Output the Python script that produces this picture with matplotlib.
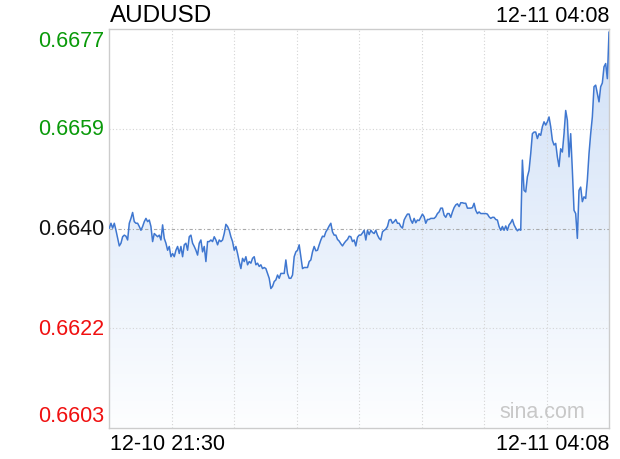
import numpy as np
import matplotlib
matplotlib.use("Agg")
import matplotlib.pyplot as plt
from matplotlib.colors import LinearSegmentedColormap
from matplotlib.patches import PathPatch

plt.rcParams['font.family'] = ['Liberation Sans', 'DejaVu Sans']

# 数据
symbol = "AUDUSD"
last_time = "12-11 04:08"
start_label = "12-10 21:30"
end_label = "12-11 04:08"
prev_close = 0.66404
y_labels = ["0.6603", "0.6622", "0.6640", "0.6659", "0.6677"]

prices_a = [
    0.66405, 0.66414, 0.66405, 0.66414, 0.66401, 0.66386, 0.66372, 0.66377, 0.66389, 0.66392,
    0.66390, 0.66383, 0.66414, 0.66423, 0.66434, 0.66417, 0.66414, 0.66414, 0.66408, 0.66401,
    0.66408, 0.66417, 0.66423, 0.66417, 0.66420, 0.66408, 0.66380, 0.66395, 0.66392, 0.66389,
    0.66392, 0.66383, 0.66411, 0.66386, 0.66377, 0.66364, 0.66371, 0.66352, 0.66358, 0.66352,
    0.66364, 0.66371, 0.66358, 0.66371, 0.66352, 0.66374, 0.66377, 0.66364, 0.66389, 0.66392,
    0.66377, 0.66371, 0.66364, 0.66355, 0.66377, 0.66383, 0.66361, 0.66371, 0.66343, 0.66380,
    0.66380, 0.66383, 0.66380, 0.66389, 0.66383, 0.66374, 0.66383, 0.66380, 0.66383, 0.66395,
    0.66412, 0.66408, 0.66401, 0.66389, 0.66380, 0.66364, 0.66371, 0.66358, 0.66343, 0.66330,
    0.66349, 0.66343, 0.66352, 0.66337, 0.66343, 0.66340, 0.66349, 0.66352, 0.66337, 0.66340,
    0.66334, 0.66337, 0.66330, 0.66332, 0.66330, 0.66321, 0.66312, 0.66293, 0.66297, 0.66306,
    0.66309, 0.66318, 0.66312, 0.66321, 0.66321, 0.66321, 0.66346, 0.66321, 0.66312, 0.66312,
    0.66318, 0.66352, 0.66361, 0.66364, 0.66374, 0.66352, 0.66330, 0.66332, 0.66332, 0.66332,
    0.66343,
]
prices_b = [
    0.66346, 0.66361, 0.66371, 0.66363, 0.66364, 0.66374, 0.66383, 0.66390, 0.66389, 0.66398,
    0.66403, 0.66409, 0.66414, 0.66398, 0.66392, 0.66392, 0.66384, 0.66381, 0.66376, 0.66372,
    0.66377, 0.66381, 0.66384, 0.66390, 0.66389, 0.66380, 0.66383, 0.66372, 0.66388, 0.66392,
    0.66392, 0.66396, 0.66401, 0.66383, 0.66401, 0.66393, 0.66401, 0.66397, 0.66395, 0.66401,
    0.66392, 0.66386, 0.66383, 0.66398, 0.66401, 0.66403, 0.66408, 0.66420, 0.66421, 0.66414,
    0.66417, 0.66421, 0.66414, 0.66414, 0.66408, 0.66405, 0.66420, 0.66426, 0.66431, 0.66431,
    0.66420, 0.66414, 0.66423, 0.66415, 0.66420, 0.66419, 0.66425, 0.66431, 0.66426, 0.66414,
    0.66421, 0.66421, 0.66423, 0.66423, 0.66423, 0.66426, 0.66432, 0.66435, 0.66442, 0.66442,
    0.66429, 0.66425, 0.66432, 0.66432, 0.66425, 0.66435, 0.66443, 0.66448, 0.66450, 0.66445,
    0.66452, 0.66452, 0.66451, 0.66451, 0.66442, 0.66442, 0.66442, 0.66443, 0.66451, 0.66438,
    0.66432, 0.66435, 0.66432, 0.66432, 0.66432, 0.66432, 0.66431, 0.66426, 0.66423, 0.66425,
    0.66425, 0.66421, 0.66420, 0.66408, 0.66401, 0.66408, 0.66401, 0.66409, 0.66401, 0.66411,
    0.66415, 0.66421, 0.66411, 0.66405, 0.66400, 0.66403,
]
prices_c = [
    0.66401, 0.66531, 0.66475, 0.66472, 0.66500, 0.66512, 0.66543, 0.66580, 0.66583, 0.66583,
    0.66571, 0.66580, 0.66577, 0.66593, 0.66602, 0.66596, 0.66602, 0.66611, 0.66593, 0.66568,
    0.66559, 0.66562, 0.66537, 0.66519, 0.66552, 0.66546, 0.66580, 0.66623, 0.66605, 0.66537,
    0.66580, 0.66512, 0.66438, 0.66432, 0.66386, 0.66475, 0.66481, 0.66454, 0.66463, 0.66460,
    0.66494, 0.66543, 0.66580, 0.66611, 0.66667, 0.66670, 0.66654, 0.66639, 0.66667, 0.66674,
    0.66704, 0.66710, 0.66682, 0.66768,
]

prices = np.array(prices_a + prices_b + prices_c)
x = np.arange(len(prices))
n = len(prices) - 1

step = 0.00185
levels = prev_close + step * np.arange(-2, 3)
ymin, ymax = levels[0], levels[-1]

fig = plt.figure(figsize=(6.2, 4.6), dpi=100)
ax = fig.add_axes([109.3 / 620, 1 - 429.3 / 460, 499.7 / 620, 399.3 / 460])

# 渐变填充
poly = ax.fill_between(x, prices, ymin, color='none', lw=0)
patch = PathPatch(poly.get_paths()[0], transform=ax.transData,
                  facecolor='none', edgecolor='none')
ax.add_patch(patch)
cmap = LinearSegmentedColormap.from_list('fill', ['#fdfeff', '#d0e0f7'])
grad = np.linspace(1, 0, 256).reshape(-1, 1)
img = ax.imshow(grad, extent=[0, n, ymin, ymax], aspect='auto', cmap=cmap,
                zorder=1)
img.set_clip_path(patch)

ax.plot(x, prices, color='#3f77d0', lw=1.1, zorder=3)

# 网格
for k in range(1, 8):
    ax.axvline(n * k / 8, color='#d4d4d4', lw=0.8, ls=(0, (1, 2)), zorder=2)
for i, lv in enumerate(levels[1:-1]):
    if i == 1:
        ax.axhline(lv, color='#aaaaaa', lw=0.8, ls=(0, (3, 2, 1, 2)), zorder=2)
    else:
        ax.axhline(lv, color='#d4d4d4', lw=0.8, ls=(0, (1, 2)), zorder=2)

ax.set_xlim(0, n)
ax.set_ylim(ymin, ymax)
ax.set_xticks([])
ax.set_yticks([])
for s in ax.spines.values():
    s.set_color('#cccccc')
    s.set_linewidth(1.0)

fs = 15.5
colors = ['#f01010', '#f01010', '#111111', '#0a9a0a', '#0a9a0a']
offsets = [13, 0, 0, 0, -11]
for lv, lbl, c, dy in zip(levels, y_labels, colors, offsets):
    ax.annotate(lbl, xy=(0, lv), xycoords=('axes fraction', 'data'),
                xytext=(-5, dy), textcoords='offset pixels',
                ha='right', va='center', color=c, fontsize=fs)

fig.text(110 / 620, 1 - 16 / 460, symbol, ha='left', va='center', fontsize=17.5)
fig.text(609 / 620, 1 - 16 / 460, last_time, ha='right', va='center', fontsize=fs)
fig.text(110 / 620, 1 - 445 / 460, start_label, ha='left', va='center', fontsize=fs)
fig.text(609 / 620, 1 - 445 / 460, end_label, ha='right', va='center', fontsize=fs)
ax.text(0.952, 0.041, "sina.com", transform=ax.transAxes, ha='right',
        va='center', color='#c8c8c8', fontsize=fs, zorder=4)

fig.savefig("out.png", dpi=100)
